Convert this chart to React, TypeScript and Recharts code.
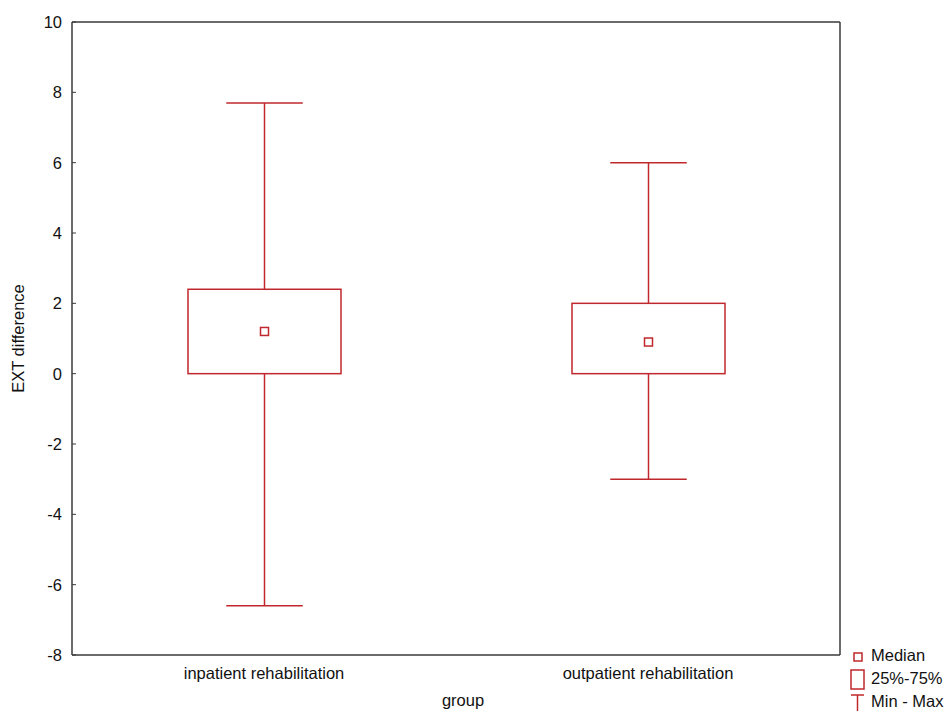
import { Bar, CartesianGrid, ComposedChart, XAxis, YAxis } from 'recharts';

const groups = ['inpatient rehabilitation', 'outpatient rehabilitation'];
const minVals = [-6.6, -3];
const q1Vals = [0, 0];
const medianVals = [1.2, 0.9];
const q3Vals = [2.4, 2];
const maxVals = [7.7, 6];
const yTicks = [-8, -6, -4, -2, 0, 2, 4, 6, 8, 10];

const RED = '#c0282d';
const FRAME = '#3a3a3a';
const FONT = '"Liberation Sans", Arial, sans-serif';
const FS = 16.5;

const data = groups.map((g, i) => ({
  group: g,
  range: [minVals[i], maxVals[i]],
  min: minVals[i],
  q1: q1Vals[i],
  median: medianVals[i],
  q3: q3Vals[i],
  max: maxVals[i],
}));

// box + whiskers drawn inside the min..max bar, positions taken from the bar's own pixel span
function BoxShape(props: any) {
  const { x, y, width, height, payload } = props;
  const top = Math.min(y, y + height);
  const bottom = Math.max(y, y + height);
  const span = payload.max - payload.min;
  const toY = (v: number) => top + ((payload.max - v) / span) * (bottom - top);
  const cx = x + width / 2;
  const capHalf = width / 4;
  const yQ1 = toY(payload.q1);
  const yQ3 = toY(payload.q3);
  const yMed = toY(payload.median);
  return (
    <g stroke={RED} strokeWidth={1.5} fill="none">
      <line x1={cx} y1={top} x2={cx} y2={yQ3} />
      <line x1={cx} y1={yQ1} x2={cx} y2={bottom} />
      <line x1={cx - capHalf} y1={top} x2={cx + capHalf} y2={top} />
      <line x1={cx - capHalf} y1={bottom} x2={cx + capHalf} y2={bottom} />
      <rect x={x} y={yQ3} width={width} height={yQ1 - yQ3} fill="#fff" />
      <rect x={cx - 4} y={yMed - 4} width={8} height={8} />
    </g>
  );
}

function BoxLegend() {
  const row = { display: 'flex', alignItems: 'center', height: 23 } as const;
  return (
    <div
      style={{
        position: 'absolute',
        left: 849,
        top: 644,
        fontFamily: FONT,
        fontSize: FS,
        color: '#111',
        whiteSpace: 'nowrap',
      }}
    >
      <div style={row}>
        <svg width={18} height={22}>
          <rect x={5} y={8} width={8} height={8} fill="none" stroke={RED} strokeWidth={1.5} />
        </svg>
        <span style={{ marginLeft: 4 }}>Median</span>
      </div>
      <div style={row}>
        <svg width={18} height={22}>
          <rect x={2} y={2} width={13} height={19} fill="none" stroke={RED} strokeWidth={1.5} />
        </svg>
        <span style={{ marginLeft: 4 }}>25%-75%</span>
      </div>
      <div style={row}>
        <svg width={18} height={22}>
          <line x1={2} y1={4} x2={15} y2={4} stroke={RED} strokeWidth={1.5} />
          <line x1={8.5} y1={4} x2={8.5} y2={22} stroke={RED} strokeWidth={1.5} />
        </svg>
        <span style={{ marginLeft: 4 }}>Min - Max</span>
      </div>
    </div>
  );
}

export default function App() {
  const tickStyle = { fill: '#111', fontSize: FS, fontFamily: FONT };
  return (
    <div style={{ position: 'relative', width: 947, height: 711, background: '#fff', overflow: 'hidden' }}>
      <style>{'body{margin:0}'}</style>
      <ComposedChart
        width={947}
        height={711}
        data={data}
        margin={{ top: 22, right: 107, left: 0, bottom: 0 }}
        style={{ fontFamily: FONT }}
      >
        {/* top and right edges of the plot frame */}
        <CartesianGrid
          stroke={FRAME}
          strokeWidth={1.5}
          strokeDasharray=""
          horizontalCoordinatesGenerator={({ offset }: any) => [offset.top]}
          verticalCoordinatesGenerator={({ offset }: any) => [offset.left + offset.width]}
        />
        <XAxis
          dataKey="group"
          height={56}
          tick={tickStyle}
          tickLine={false}
          tickSize={0}
          tickMargin={12}
          axisLine={{ stroke: FRAME, strokeWidth: 1.5 }}
          label={{ value: 'group', position: 'insideBottom', offset: 5, dx: 7, fill: '#111', fontSize: FS }}
        />
        <YAxis
          domain={[-8, 10]}
          ticks={yTicks}
          width={72}
          tick={tickStyle}
          tickSize={-4}
          tickMargin={14}
          tickLine={{ stroke: FRAME }}
          axisLine={{ stroke: FRAME, strokeWidth: 1.5 }}
          label={{
            value: 'EXT difference',
            angle: -90,
            position: 'insideLeft',
            offset: 18,
            fill: '#111',
            fontSize: FS,
            style: { textAnchor: 'middle' },
          }}
        />
        <Bar dataKey="range" barSize={153} shape={BoxShape} isAnimationActive={false} />
      </ComposedChart>
      <BoxLegend />
    </div>
  );
}
